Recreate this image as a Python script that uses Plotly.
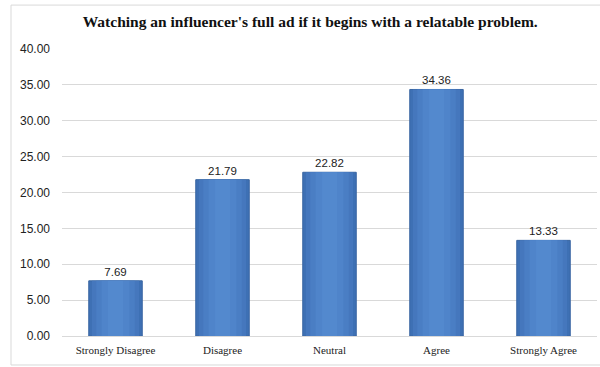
import plotly.graph_objects as go

categories = ["Strongly Disagree", "Disagree", "Neutral", "Agree", "Strongly Agree"]
values = [7.69, 21.79, 22.82, 34.36, 13.33]
tick_vals = [0, 5, 10, 15, 20, 25, 30, 35, 40]
tick_text = ["%.2f" % v for v in tick_vals]
title = "Watching an influencer's full ad if it begins with a relatable problem."

serif = "Liberation Serif, Times New Roman, serif"
sans = "Liberation Sans, Arial, sans-serif"

fig = go.Figure()
# base bar (darker edge)
fig.add_trace(go.Bar(
    x=categories, y=values, width=0.5,
    marker=dict(color="#3E70B4", line=dict(color="#3A66A2", width=1)),
    text=["%.2f" % v for v in values], textposition="outside",
    textfont=dict(family=sans, size=11.5, color="#222222"),
    cliponaxis=False, hoverinfo="skip",
))
# lighter inner layers to mimic the gradient
for w, c in [(0.44, "#4577BD"), (0.36, "#4A7EC4"), (0.26, "#4F84CA"), (0.14, "#5389CE")]:
    fig.add_trace(go.Bar(
        x=categories, y=values, width=w,
        marker=dict(color=c, line=dict(width=0)),
        hoverinfo="skip",
    ))

fig.update_layout(
    width=600, height=367,
    barmode="overlay",
    showlegend=False,
    paper_bgcolor="white", plot_bgcolor="white",
    margin=dict(l=62, r=3, t=49, b=31),
    title=dict(text="<b>%s</b>" % title, x=0.517, xanchor="center", y=0.94, yanchor="middle",
               font=dict(family=serif, size=15.5, color="#111111")),
    font=dict(family=serif, size=13, color="#222222"),
    xaxis=dict(showgrid=False, showline=True, linecolor="#D9D9D9", linewidth=1,
               ticks="", ticklabelstandoff=4,
               tickfont=dict(family=serif, size=11, color="#222222")),
    yaxis=dict(range=[0, 40], tickvals=tick_vals, ticktext=tick_text,
               showgrid=True, gridcolor="#D9D9D9", gridwidth=1, zeroline=False,
               ticks="", ticklabelstandoff=11,
               tickfont=dict(family=sans, size=12, color="#222222")),
    shapes=[dict(type="rect", xref="paper", yref="paper",
                 x0=-0.0953, x1=1.02, y0=-0.101, y1=1.153,
                 line=dict(color="#D9D9D9", width=1), fillcolor="rgba(0,0,0,0)", layer="below")],
)

fig.write_html("out.html", config={"displayModeBar": False},
               post_script="document.body.style.margin='0';document.body.style.padding='0';")
